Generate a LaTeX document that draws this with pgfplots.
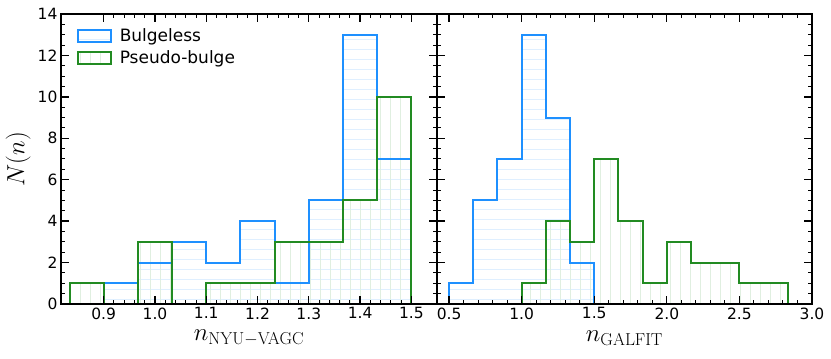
\documentclass[border=0pt]{standalone}
\usepackage[no-math]{fontspec}
\setmainfont{DejaVu Sans}
\usepackage{pgfplots}
\pgfplotsset{compat=1.18}
\usetikzlibrary{patterns.meta}
\definecolor{bblue}{HTML}{1E90FF}
\definecolor{bgreen}{HTML}{228B22}
\colorlet{hblue}{bblue!14}
\colorlet{hgreen}{bgreen!14}
\pgfplotsset{
  histaxis/.style={
    scale only axis, height=290pt,
    anchor=south west,
    ymin=0, ymax=14, ytick={0,2,4,6,8,10,12,14},
    minor y tick num=3, minor x tick num=4,
    axis on top,
    axis line style={line width=1.5pt},
    major tick length=8pt, minor tick length=4pt,
    major tick style={line width=1.3pt, black},
    minor tick style={line width=1pt, black},
    tick align=inside,
    ticklabel style={font=\fontsize{15.5}{18}\selectfont},
    /pgf/number format/assume math mode=true,
    label style={font=\fontsize{25}{30}\selectfont},
    xlabel style={at={(axis description cs:0.5,-0.117)}, anchor=center},
  },
  bfill/.style={draw=none, const plot, forget plot, pattern={Lines[angle=0,distance=10pt,line width=0.9pt]}, pattern color=hblue},
  gfill/.style={draw=none, const plot, forget plot, pattern={Lines[angle=90,distance=10pt,line width=0.9pt]}, pattern color=hgreen},
  bline/.style={const plot, forget plot, bblue, line width=2pt, mark=none},
  gline/.style={const plot, forget plot, bgreen, line width=2pt, mark=none},
}
\begin{document}
\begin{tikzpicture}
\path[use as bounding box] (0pt,0pt) rectangle (831pt,359pt);
\begin{axis}[histaxis, at={(61pt,55pt)}, width=376pt,
  xmin=0.8167, xmax=1.55,
  xtick={0.9,1.0,1.1,1.2,1.3,1.4,1.5},
  xticklabel style={/pgf/number format/.cd, fixed, fixed zerofill, precision=1},
  xlabel={$n_{\mathrm{NYU-VAGC}}$},
  ylabel={$N(n)$},
  ylabel style={at={(axis description cs:-0.114,0.5)}, anchor=center},
  legend style={at={(rel axis cs:0.035,0.965)}, anchor=north west, draw=none, fill=none,
    font=\fontsize{17}{20}\selectfont, row sep=4pt},
  legend cell align=left,
]
\addlegendimage{legend image code/.code={\draw[bblue, line width=2pt, pattern={Lines[angle=0,distance=10pt,line width=0.9pt]}, pattern color=hblue] (0pt,-6pt) rectangle (33pt,6pt);}}
\addlegendentry{\ Bulgeless}
\addlegendimage{legend image code/.code={\draw[bgreen, line width=2pt, pattern={Lines[angle=90,distance=10pt,line width=0.9pt]}, pattern color=hgreen] (0pt,-6pt) rectangle (33pt,6pt);}}
\addlegendentry{\ Pseudo-bulge}
% hatched fills first
\addplot[bfill] coordinates {(0.9,0) (0.9,1) (0.9667,2) (1.0333,3) (1.1,2) (1.1667,4) (1.2333,1) (1.3,5) (1.3667,13) (1.4333,7) (1.5,7) (1.5,0)} \closedcycle;
\addplot[gfill] coordinates {(0.8333,0) (0.8333,1) (0.9,0) (0.9667,3) (1.0333,0) (1.1,1) (1.1667,1) (1.2333,3) (1.3,3) (1.3667,5) (1.4333,10) (1.5,10) (1.5,0)} \closedcycle;
% outlines
\addplot[bline] coordinates {(0.9,0) (0.9,1) (0.9667,2) (1.0333,3) (1.1,2) (1.1667,4) (1.2333,1) (1.3,5) (1.3667,13) (1.4333,7) (1.5,7) (1.5,0)};
\addplot[gline] coordinates {(0.8333,0) (0.8333,1) (0.9,0) (0.9667,3) (1.0333,0) (1.1,1) (1.1667,1) (1.2333,3) (1.3,3) (1.3667,5) (1.4333,10) (1.5,10) (1.5,0)};
\end{axis}
\begin{axis}[histaxis, at={(437pt,55pt)}, width=375pt,
  xmin=0.4167, xmax=3.0,
  xtick={0.5,1.0,1.5,2.0,2.5,3.0},
  xticklabel style={/pgf/number format/.cd, fixed, fixed zerofill, precision=1},
  yticklabels={},
  xlabel={$n_{\mathrm{GALFIT}}$},
]
\addplot[bfill] coordinates {(0.5,0) (0.5,1) (0.6667,5) (0.8333,7) (1.0,13) (1.1667,9) (1.3333,2) (1.5,2) (1.5,0)} \closedcycle;
\addplot[gfill] coordinates {(1.0,0) (1.0,1) (1.1667,4) (1.3333,3) (1.5,7) (1.6667,4) (1.8333,1) (2.0,3) (2.1667,2) (2.3333,2) (2.5,1) (2.6667,1) (2.8333,1) (2.8333,0)} \closedcycle;
\addplot[bline] coordinates {(0.5,0) (0.5,1) (0.6667,5) (0.8333,7) (1.0,13) (1.1667,9) (1.3333,2) (1.5,2) (1.5,0)};
\addplot[gline] coordinates {(1.0,0) (1.0,1) (1.1667,4) (1.3333,3) (1.5,7) (1.6667,4) (1.8333,1) (2.0,3) (2.1667,2) (2.3333,2) (2.5,1) (2.6667,1) (2.8333,1) (2.8333,0)};
\end{axis}
\end{tikzpicture}
\end{document}
